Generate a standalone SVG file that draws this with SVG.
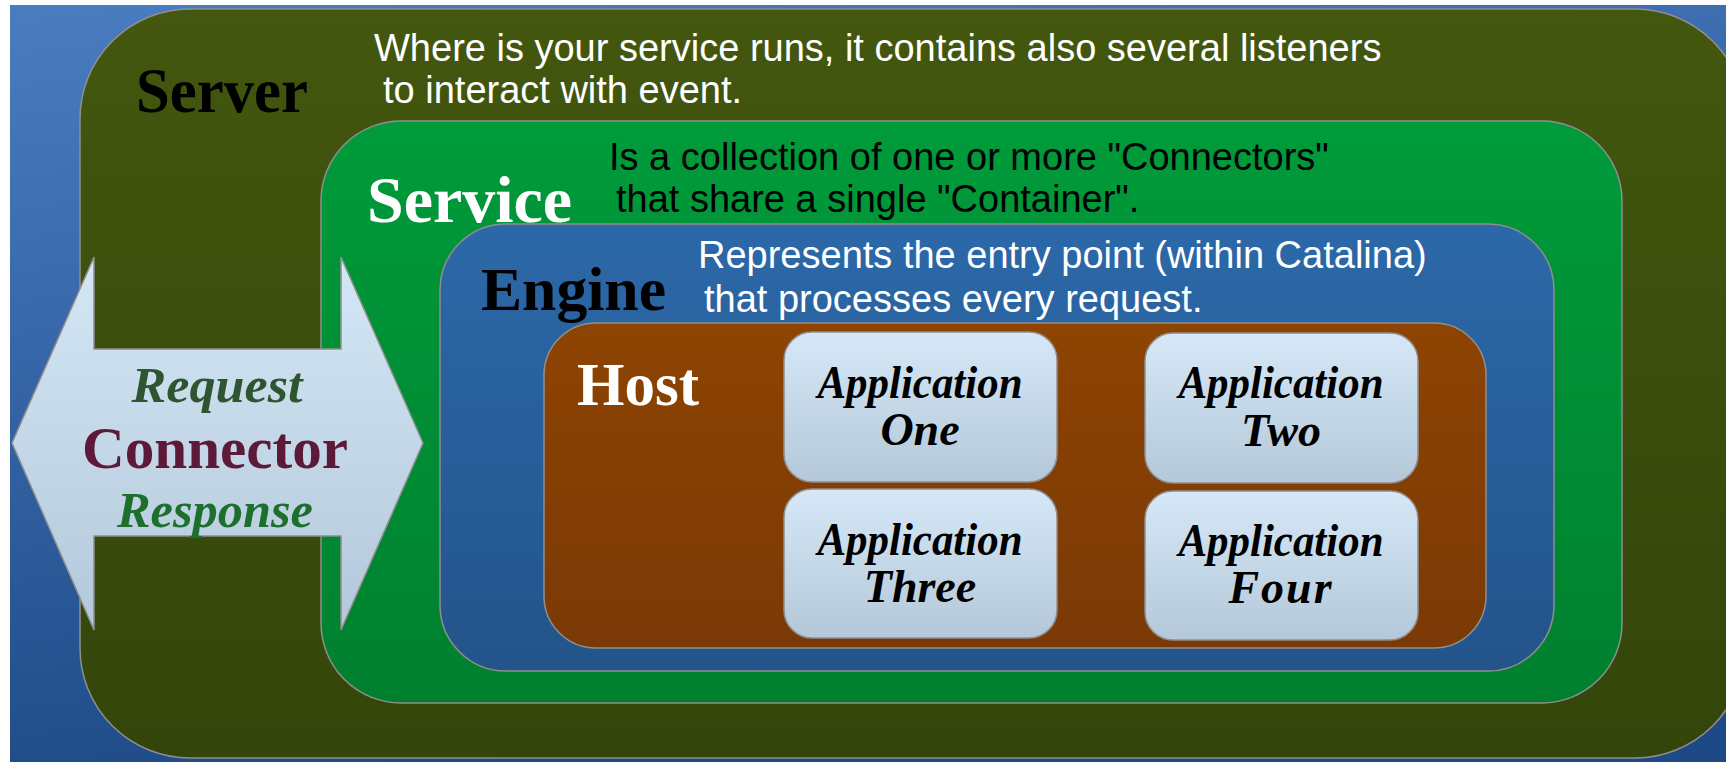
<svg xmlns="http://www.w3.org/2000/svg" width="1726" height="762" viewBox="0 0 1726 762">
  <defs>
    <linearGradient id="bg" x1="0" y1="0" x2="0.3" y2="1">
      <stop offset="0" stop-color="#4a7cc1"/>
      <stop offset="1" stop-color="#1d4a86"/>
    </linearGradient>
    <linearGradient id="gServer" x1="0" y1="0" x2="0" y2="1">
      <stop offset="0" stop-color="#43570f"/>
      <stop offset="1" stop-color="#33450a"/>
    </linearGradient>
    <linearGradient id="gService" x1="0" y1="0" x2="0" y2="1">
      <stop offset="0" stop-color="#009b3b"/>
      <stop offset="1" stop-color="#00802f"/>
    </linearGradient>
    <linearGradient id="gEngine" x1="0" y1="0" x2="0" y2="1">
      <stop offset="0" stop-color="#2c68a8"/>
      <stop offset="1" stop-color="#23548a"/>
    </linearGradient>
    <linearGradient id="gHost" x1="0" y1="0" x2="0" y2="1">
      <stop offset="0" stop-color="#8e4402"/>
      <stop offset="1" stop-color="#7a3906"/>
    </linearGradient>
    <linearGradient id="gApp" x1="0" y1="0" x2="0" y2="1">
      <stop offset="0" stop-color="#d6e8f7"/>
      <stop offset="1" stop-color="#b4c8d9"/>
    </linearGradient>
    <linearGradient id="gArrow" x1="0" y1="0" x2="0" y2="1">
      <stop offset="0" stop-color="#d4e7f6"/>
      <stop offset="1" stop-color="#b3c8da"/>
    </linearGradient>
  </defs>
  <style>
    .box { stroke: #8f8f8f; stroke-width: 1.5; }
    .title { font-family: "Liberation Serif", "Times New Roman", serif; font-weight: bold; }
    .desc { font-family: "Liberation Sans", Arial, sans-serif; font-size: 38px; }
    .app { font-family: "Liberation Serif", "Times New Roman", serif; font-weight: bold; font-style: italic; font-size: 46px; fill: #000; text-anchor: middle; }
    .conn { font-family: "Liberation Serif", "Times New Roman", serif; font-weight: bold; text-anchor: middle; }
    .white { fill: #ffffff; }
    .black { fill: #000000; }
  </style>

  <rect x="0" y="0" width="1726" height="762" fill="#ffffff"/>
  <rect x="10" y="5" width="1716" height="757" fill="url(#bg)"/>

  <g id="server">
    <rect class="box" x="80" y="9" width="1665" height="749" rx="110" ry="110" fill="url(#gServer)"/>
    <text class="title black" x="136" y="112" font-size="63" textLength="172" lengthAdjust="spacingAndGlyphs">Server</text>
    <text class="desc white" x="374" y="61">Where is your service runs, it contains also several listeners</text>
    <text class="desc white" x="383" y="103">to interact with event.</text>
  </g>

  <g id="service">
    <rect class="box" x="321" y="121" width="1301" height="582" rx="80" ry="80" fill="url(#gService)"/>
    <text class="title white" x="367" y="222" font-size="66" textLength="205" lengthAdjust="spacingAndGlyphs">Service</text>
    <text class="desc black" x="609" y="170">Is a collection of one or more "Connectors"</text>
    <text class="desc black" x="616" y="212">that share a single "Container".</text>
  </g>

  <g id="engine">
    <rect class="box" x="440" y="224" width="1114" height="447" rx="66" ry="66" fill="url(#gEngine)"/>
    <text class="title black" x="481" y="310" font-size="62" textLength="185" lengthAdjust="spacingAndGlyphs">Engine</text>
    <text class="desc white" x="698" y="268">Represents the entry point (within Catalina)</text>
    <text class="desc white" x="704" y="312">that processes every request.</text>
  </g>

  <g id="host">
    <rect class="box" x="544" y="323" width="942" height="325" rx="52" ry="52" fill="url(#gHost)"/>
    <text class="title white" x="577" y="405" font-size="61" textLength="122" lengthAdjust="spacingAndGlyphs">Host</text>
  </g>

  <g id="app-one">
    <rect class="box" x="784" y="332" width="273" height="150" rx="28" ry="28" fill="url(#gApp)"/>
    <text class="app" x="920" y="398" textLength="205" lengthAdjust="spacingAndGlyphs">Application</text>
    <text class="app" x="920" y="445">One</text>
  </g>
  <g id="app-two">
    <rect class="box" x="1145" y="333" width="273" height="150" rx="28" ry="28" fill="url(#gApp)"/>
    <text class="app" x="1281" y="398" textLength="205" lengthAdjust="spacingAndGlyphs">Application</text>
    <text class="app" x="1281" y="446">Two</text>
  </g>
  <g id="app-three">
    <rect class="box" x="784" y="489" width="273" height="149" rx="28" ry="28" fill="url(#gApp)"/>
    <text class="app" x="920" y="555" textLength="205" lengthAdjust="spacingAndGlyphs">Application</text>
    <text class="app" x="920" y="602">Three</text>
  </g>
  <g id="app-four">
    <rect class="box" x="1145" y="491" width="273" height="149" rx="28" ry="28" fill="url(#gApp)"/>
    <text class="app" x="1281" y="556" textLength="205" lengthAdjust="spacingAndGlyphs">Application</text>
    <text class="app" x="1281" y="603" letter-spacing="2">Four</text>
  </g>

  <g id="connector">
    <polygon class="box" points="12,443 94,257 94,349 341,349 341,257 423,443 341,630 341,536 94,536 94,630" fill="url(#gArrow)"/>
    <text class="conn" x="217" y="402" font-style="italic" font-size="50" fill="#2f5530" textLength="171" lengthAdjust="spacingAndGlyphs">Request</text>
    <text class="conn" x="215" y="468" font-size="60" fill="#5c1a38" textLength="266" lengthAdjust="spacingAndGlyphs">Connector</text>
    <text class="conn" x="215" y="527" font-style="italic" font-size="50" fill="#1e6e2e" textLength="196" lengthAdjust="spacingAndGlyphs">Response</text>
  </g>
</svg>
